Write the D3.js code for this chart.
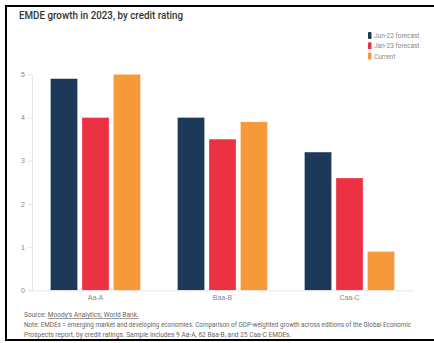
<!DOCTYPE html>
<html>
<head>
<meta charset="utf-8">
<script src="https://cdn.jsdelivr.net/npm/d3@7"></script>
<style>
  body { margin: 0; background: #fff; }
  svg { display: block; font-family: Roboto, "Open Sans", sans-serif; }
</style>
</head>
<body>
<svg id="chart" width="434" height="343"></svg>
<script>
// data
const ratings = ["Aa-A", "Baa-B", "Caa-C"];
const seriesNames = ["Jun-22 forecast", "Jan-23 forecast", "Current"];
const jun22 = [4.9, 4.0, 3.2];
const jan23 = [4.0, 3.5, 2.6];
const current = [5.0, 3.9, 0.9];
const yTicks = [0, 1, 2, 3, 4, 5];
const colors = ["#1c3959", "#ec3242", "#f5993b"];

const svg = d3.select("#chart");

// frame
svg.append("rect")
  .attr("x", 6).attr("y", 6)
  .attr("width", 440).attr("height", 334)
  .attr("fill", "none")
  .attr("stroke", "#000")
  .attr("stroke-width", 2);

// title
svg.append("text")
  .attr("x", 19).attr("y", 19)
  .attr("font-size", 11)
  .attr("font-weight", 500)
  .attr("fill", "#333")
  .attr("textLength", 164)
  .attr("lengthAdjust", "spacingAndGlyphs")
  .text("EMDE growth in 2023, by credit rating");

const plotLeft = 32, plotRight = 413, plotTop = 74.3, plotBottom = 290.3;

let x0 = d3.scaleBand()
  .domain(ratings)
  .range([plotLeft, plotRight])
  .paddingInner(0.291)
  .paddingOuter(0.1455);

let x1 = d3.scaleBand()
  .domain(seriesNames)
  .range([0, x0.bandwidth()])
  .paddingInner(0.14);

let y = d3.scaleLinear()
  .domain([0, 5])
  .range([plotBottom, plotTop]);

// y axis
let yAxis = svg.append("g")
  .attr("transform", `translate(${plotLeft},0)`)
  .call(d3.axisLeft(y).tickValues(yTicks).tickFormat(d3.format("d")).tickSize(4).tickPadding(3));
yAxis.select(".domain").attr("stroke", "#e6e6e6");
yAxis.selectAll(".tick line").attr("stroke", "#e6e6e6");
yAxis.selectAll(".tick text").attr("fill", "#888").attr("font-size", 7);

// bars
const table = ratings.map((r, i) => ({ rating: r, values: [jun22[i], jan23[i], current[i]] }));

let groups = svg.append("g").selectAll("g")
  .data(table)
  .enter()
  .append("g")
  .attr("transform", d => `translate(${x0(d.rating)},0)`);

groups.selectAll("rect")
  .data(d => d.values.map((v, j) => ({ name: seriesNames[j], value: v, idx: j })))
  .enter()
  .append("rect")
  .attr("x", d => x1(d.name))
  .attr("y", d => y(d.value))
  .attr("width", x1.bandwidth())
  .attr("height", d => y(0) - y(d.value))
  .attr("fill", d => colors[d.idx])
  .attr("stroke", "#fff")
  .attr("stroke-opacity", 0.5)
  .attr("stroke-width", 0.6);

// x axis
let xAxis = svg.append("g")
  .attr("transform", `translate(0,${plotBottom})`)
  .call(d3.axisBottom(x0).tickSize(0).tickPadding(5));
xAxis.select(".domain").attr("stroke", "#e6e6e6");
xAxis.selectAll(".tick text").attr("fill", "#888").attr("font-size", 7);

// legend
let legend = svg.append("g").attr("transform", "translate(368,32)");
seriesNames.forEach((name, i) => {
  legend.append("rect")
    .attr("x", 0).attr("y", i * 10.3)
    .attr("width", 3.5).attr("height", 7)
    .attr("rx", 1)
    .attr("fill", colors[i]);
  legend.append("text")
    .attr("x", 6).attr("y", i * 10.3 + 6)
    .attr("font-size", 6.5)
    .attr("fill", "#888")
    .text(name);
});

// footer
let foot = svg.append("g").attr("font-size", 6.6).attr("fill", "#666");
let src = foot.append("text").attr("x", 24).attr("y", 317);
src.append("tspan").text("Source: ");
src.append("tspan").attr("text-decoration", "underline").text("Moody's Analytics; World Bank.");
foot.append("text").attr("x", 24).attr("y", 327)
  .attr("textLength", 387).attr("lengthAdjust", "spacingAndGlyphs")
  .text("Note: EMDEs = emerging market and developing economies. Comparison of GDP-weighted growth across editions of the Global Economic");
foot.append("text").attr("x", 24).attr("y", 337)
  .text("Prospects report, by credit ratings. Sample includes 9 Aa-A, 62 Baa-B, and 25 Caa-C EMDEs.");
</script>
</body>
</html>
